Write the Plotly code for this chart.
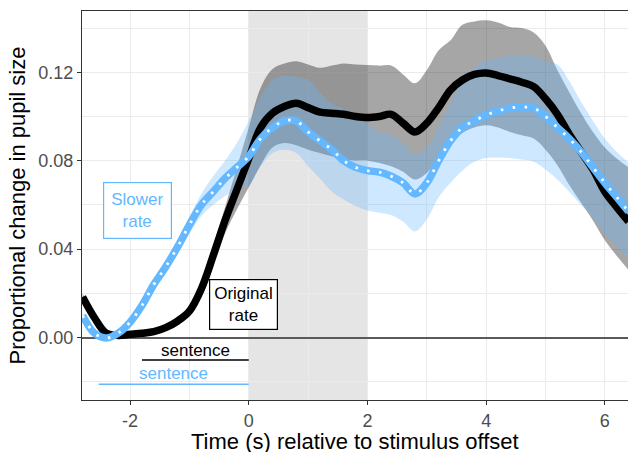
import plotly.graph_objects as go

# Time grid (s relative to stimulus offset)
time = [-2.8, -2.6, -2.4, -2.2, -2.0, -1.8, -1.6, -1.4, -1.2, -1.0, -0.8, -0.6, -0.4, -0.2,
        0.0, 0.2, 0.4, 0.6, 0.8, 1.0, 1.2, 1.4, 1.6, 1.8, 2.0, 2.2, 2.4, 2.6, 2.8, 3.0,
        3.2, 3.4, 3.6, 3.8, 4.0, 4.2, 4.4, 4.6, 4.8, 5.0, 5.2, 5.4, 5.6, 5.8, 6.0, 6.2, 6.4]

# Original rate (black)
orig_mean = [0.0184, 0.009, 0.002, 0.001, 0.0015, 0.002, 0.0027, 0.0045, 0.0075, 0.012, 0.022, 0.037, 0.053, 0.067,
             0.081, 0.095, 0.1015, 0.1045, 0.106, 0.104, 0.102, 0.1015, 0.101, 0.100, 0.0995, 0.100, 0.101, 0.097, 0.093, 0.097,
             0.104, 0.112, 0.1165, 0.119, 0.1197, 0.1185, 0.117, 0.1155, 0.1135, 0.108, 0.101, 0.092, 0.084, 0.076, 0.066, 0.059, 0.0525]
orig_upper = [0.020, 0.0105, 0.0035, 0.0025, 0.003, 0.0035, 0.0042, 0.006, 0.0095, 0.014, 0.025, 0.041, 0.059, 0.077,
              0.095, 0.113, 0.1215, 0.124, 0.125, 0.1235, 0.122, 0.123, 0.124, 0.1235, 0.1233, 0.123, 0.123, 0.119, 0.115, 0.121,
              0.130, 0.1345, 0.1415, 0.143, 0.1435, 0.1425, 0.1405, 0.140, 0.138, 0.132, 0.121, 0.111, 0.1015, 0.093, 0.086, 0.081, 0.077]
orig_lower = [0.017, 0.0075, 0.0005, -0.0005, 0.0, 0.0005, 0.0012, 0.003, 0.0055, 0.010, 0.019, 0.033, 0.047, 0.058,
              0.068, 0.078, 0.086, 0.088, 0.087, 0.085, 0.0835, 0.082, 0.0805, 0.080, 0.080, 0.079, 0.0775, 0.075, 0.0715, 0.0745,
              0.081, 0.088, 0.0925, 0.095, 0.096, 0.095, 0.093, 0.0915, 0.090, 0.085, 0.078, 0.069, 0.061, 0.053, 0.044, 0.037, 0.0305]

# Slower rate (blue)
slow_mean = [0.010, 0.002, -0.0002, 0.002, 0.007, 0.0145, 0.024, 0.032, 0.041, 0.051, 0.060, 0.066, 0.072, 0.077,
             0.082, 0.090, 0.095, 0.098, 0.098, 0.093, 0.089, 0.085, 0.080, 0.077, 0.0755, 0.0748, 0.073, 0.070, 0.065, 0.070,
             0.080, 0.089, 0.095, 0.098, 0.1007, 0.1025, 0.1038, 0.1042, 0.1038, 0.100, 0.095, 0.090, 0.084, 0.077, 0.070, 0.0635, 0.057]
slow_upper = [0.0115, 0.0035, 0.0012, 0.0035, 0.0085, 0.016, 0.0255, 0.034, 0.044, 0.0545, 0.065, 0.073, 0.080, 0.088,
              0.098, 0.109, 0.1165, 0.1185, 0.118, 0.1165, 0.111, 0.106, 0.1035, 0.1005, 0.0965, 0.093, 0.0915, 0.088, 0.083, 0.0862,
              0.095, 0.106, 0.117, 0.122, 0.1255, 0.1265, 0.1275, 0.1275, 0.127, 0.125, 0.1235, 0.116, 0.1065, 0.098, 0.090, 0.084, 0.079]
slow_lower = [0.0085, 0.0005, -0.0015, 0.0005, 0.0055, 0.013, 0.0225, 0.030, 0.038, 0.047, 0.055, 0.060, 0.064, 0.067,
              0.069, 0.0775, 0.0835, 0.085, 0.0835, 0.0775, 0.072, 0.066, 0.0625, 0.0595, 0.0575, 0.0565, 0.0555, 0.0525, 0.048, 0.0535,
              0.0635, 0.070, 0.0755, 0.0795, 0.0812, 0.0815, 0.0812, 0.0805, 0.0795, 0.076, 0.0715, 0.066, 0.060, 0.054, 0.047, 0.0415, 0.0345]

x_ticks = [-2, 0, 2, 4, 6]
y_ticks = [0.00, 0.04, 0.08, 0.12]
y_tick_labels = ["0.00", "0.04", "0.08", "0.12"]

BLUE = "#63B8FF"
FONT = "Liberation Sans, Arial, sans-serif"

fig = go.Figure()

# Original rate ribbon
fig.add_trace(go.Scatter(x=time, y=orig_lower, mode="lines", line=dict(width=0, shape="spline"),
                         hoverinfo="skip", showlegend=False))
fig.add_trace(go.Scatter(x=time, y=orig_upper, mode="lines", line=dict(width=0, shape="spline"),
                         fill="tonexty", fillcolor="rgba(0,0,0,0.35)", hoverinfo="skip", showlegend=False))
# Slower rate ribbon
fig.add_trace(go.Scatter(x=time, y=slow_lower, mode="lines", line=dict(width=0, shape="spline"),
                         hoverinfo="skip", showlegend=False))
fig.add_trace(go.Scatter(x=time, y=slow_upper, mode="lines", line=dict(width=0, shape="spline"),
                         fill="tonexty", fillcolor="rgba(99,184,255,0.32)", hoverinfo="skip", showlegend=False))
# Lines
fig.add_trace(go.Scatter(x=time, y=orig_mean, mode="lines", line=dict(color="black", width=7.5, shape="spline"),
                         showlegend=False))
fig.add_trace(go.Scatter(x=time, y=slow_mean, mode="lines", line=dict(color=BLUE, width=7.5, shape="spline"),
                         showlegend=False))
fig.add_trace(go.Scatter(x=time, y=slow_mean, mode="lines",
                         line=dict(color="white", width=2.8, shape="spline", dash="2.5px,9.5px"),
                         showlegend=False))

# Sentence duration lines
fig.add_trace(go.Scatter(x=[-1.8, 0], y=[-0.0101, -0.0101], mode="lines",
                         line=dict(color="black", width=1.5), showlegend=False))
fig.add_trace(go.Scatter(x=[-2.53, 0], y=[-0.0211, -0.0211], mode="lines",
                         line=dict(color=BLUE, width=1.5), showlegend=False))

# Shaded window
fig.add_shape(type="rect", x0=0, x1=2, y0=-1, y1=1, xref="x", yref="y",
              fillcolor="#e5e5e5", line=dict(width=0), layer="below")

fig.add_annotation(x=-0.9, y=-0.0058, text="sentence", showarrow=False,
                   font=dict(family=FONT, size=17, color="black"))
fig.add_annotation(x=-1.27, y=-0.0163, text="sentence", showarrow=False,
                   font=dict(family=FONT, size=17, color=BLUE))
fig.add_annotation(x=-1.874, y=0.0573, text="Slower<br>rate", showarrow=False,
                   font=dict(family=FONT, size=17, color=BLUE), bgcolor="white",
                   bordercolor=BLUE, borderwidth=1.2, borderpad=7)
fig.add_annotation(x=-0.09, y=0.0148, text="Original<br>rate", showarrow=False,
                   font=dict(family=FONT, size=17, color="black"), bgcolor="white",
                   bordercolor="black", borderwidth=1.2, borderpad=4)

# x-axis title (placed as paper annotation so it sits low like the reference)
fig.add_annotation(x=0.5, xref="paper", y=-0.106, yref="paper", yanchor="middle",
                   text="Time (s) relative to stimulus offset", showarrow=False,
                   font=dict(family=FONT, size=22, color="black"))

fig.update_layout(
    width=628, height=452,
    margin=dict(l=82, r=0, t=11, b=52),
    paper_bgcolor="white", plot_bgcolor="white",
    font=dict(family=FONT, color="#4d4d4d"),
    showlegend=False,
)
fig.update_xaxes(
    range=[-2.81, 6.39], tickvals=x_ticks, ticktext=[str(v) for v in x_ticks],
    showgrid=True, gridcolor="#ebebeb", gridwidth=1.2,
    minor=dict(dtick=1, tick0=1, showgrid=True, gridcolor="#ebebeb", gridwidth=0.6),
    showline=True, linecolor="#333333", linewidth=1.2, mirror=True,
    ticks="outside", ticklen=4, tickcolor="#333333", tickwidth=1.1,
    tickfont=dict(size=18, color="#4d4d4d"), zeroline=False, automargin=False,
)
fig.update_yaxes(
    range=[-0.0282, 0.1477], tickvals=y_ticks, ticktext=y_tick_labels,
    showgrid=True, gridcolor="#ebebeb", gridwidth=1.2,
    minor=dict(dtick=0.02, tick0=0.02, showgrid=True, gridcolor="#ebebeb", gridwidth=0.6),
    showline=True, linecolor="#333333", linewidth=1.2, mirror=True,
    ticks="outside", ticklen=4, tickcolor="#333333", tickwidth=1.1,
    tickfont=dict(size=18, color="#4d4d4d"), automargin=False,
    zeroline=True, zerolinecolor="#5a5a5a", zerolinewidth=1.5,
    title=dict(text="Proportional change in pupil size", font=dict(size=22, color="black"), standoff=6),
)

fig.write_html("out.html", config={"displayModeBar": False},
               post_script="document.body.style.margin='0';document.body.style.overflow='hidden';")
